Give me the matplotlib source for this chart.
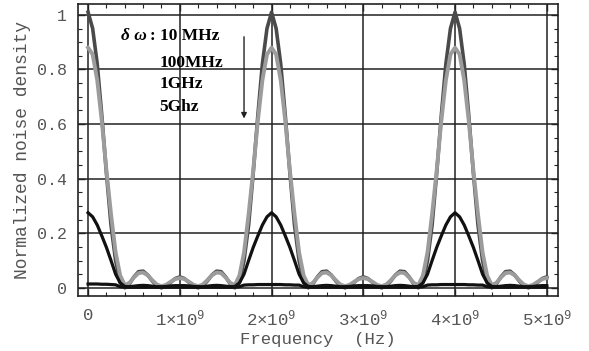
import numpy as np
import matplotlib
matplotlib.use('Agg')
import matplotlib.pyplot as plt
from matplotlib.ticker import MultipleLocator, FixedLocator

plt.rcParams['mathtext.fontset'] = 'custom'
plt.rcParams['mathtext.rm'] = 'Liberation Mono'
plt.rcParams['mathtext.default'] = 'regular'

# frequency grid (Hz), one sample every 0.05 GHz
freq = np.linspace(0, 5e9, 101)

# delta omega = 10 MHz
dens_10mhz = [
    1.01, 0.95, 0.82, 0.63, 0.42, 0.23, 0.10, 0.02, 0.00, 0.014, 0.04, 0.059, 0.061, 0.047, 0.025, 0.007, 0.00, 0.006, 0.02, 0.034, 0.04,
    0.034, 0.02, 0.006, 0.00, 0.007, 0.025, 0.047, 0.061, 0.059, 0.04, 0.014, 0.00, 0.02, 0.10, 0.23, 0.42, 0.63, 0.82, 0.95, 1.01,
    0.95, 0.82, 0.63, 0.42, 0.23, 0.10, 0.02, 0.00, 0.014, 0.04, 0.059, 0.061, 0.047, 0.025, 0.007, 0.00, 0.006, 0.02, 0.034, 0.04,
    0.034, 0.02, 0.006, 0.00, 0.007, 0.025, 0.047, 0.061, 0.059, 0.04, 0.014, 0.00, 0.02, 0.10, 0.23, 0.42, 0.63, 0.82, 0.95, 1.01,
    0.95, 0.82, 0.63, 0.42, 0.23, 0.10, 0.02, 0.00, 0.014, 0.04, 0.059, 0.061, 0.047, 0.025, 0.007, 0.00, 0.006, 0.02, 0.034, 0.04,
]

# delta omega = 100 MHz
dens_100mhz = [
    0.88, 0.855, 0.76, 0.61, 0.43, 0.27, 0.13, 0.045, 0.01, 0.018, 0.038, 0.054, 0.056, 0.046, 0.028, 0.012, 0.006, 0.011, 0.022, 0.032, 0.036,
    0.032, 0.022, 0.011, 0.006, 0.012, 0.028, 0.046, 0.056, 0.054, 0.038, 0.018, 0.01, 0.045, 0.13, 0.27, 0.43, 0.61, 0.76, 0.855, 0.88,
    0.855, 0.76, 0.61, 0.43, 0.27, 0.13, 0.045, 0.01, 0.018, 0.038, 0.054, 0.056, 0.046, 0.028, 0.012, 0.006, 0.011, 0.022, 0.032, 0.036,
    0.032, 0.022, 0.011, 0.006, 0.012, 0.028, 0.046, 0.056, 0.054, 0.038, 0.018, 0.01, 0.045, 0.13, 0.27, 0.43, 0.61, 0.76, 0.855, 0.88,
    0.855, 0.76, 0.61, 0.43, 0.27, 0.13, 0.045, 0.01, 0.018, 0.038, 0.054, 0.056, 0.046, 0.028, 0.012, 0.006, 0.011, 0.022, 0.032, 0.036,
]

# delta omega = 1 GHz
dens_1ghz = [
    0.275, 0.26, 0.23, 0.19, 0.148, 0.10, 0.05, 0.018, 0.005, 0.004, 0.006, 0.008, 0.009, 0.008, 0.006, 0.004, 0.004, 0.005, 0.007, 0.008, 0.008,
    0.008, 0.007, 0.005, 0.004, 0.004, 0.006, 0.008, 0.009, 0.008, 0.006, 0.004, 0.005, 0.018, 0.05, 0.10, 0.148, 0.19, 0.23, 0.26, 0.275,
    0.26, 0.23, 0.19, 0.148, 0.10, 0.05, 0.018, 0.005, 0.004, 0.006, 0.008, 0.009, 0.008, 0.006, 0.004, 0.004, 0.005, 0.007, 0.008, 0.008,
    0.008, 0.007, 0.005, 0.004, 0.004, 0.006, 0.008, 0.009, 0.008, 0.006, 0.004, 0.005, 0.018, 0.05, 0.10, 0.148, 0.19, 0.23, 0.26, 0.275,
    0.26, 0.23, 0.19, 0.148, 0.10, 0.05, 0.018, 0.005, 0.004, 0.006, 0.008, 0.009, 0.008, 0.006, 0.004, 0.004, 0.005, 0.007, 0.008, 0.008,
]

# delta omega = 5 GHz
dens_5ghz = [
    0.014, 0.014, 0.014, 0.013, 0.013, 0.012, 0.011, 0.004, 0.002, 0.002, 0.002, 0.002, 0.002, 0.002, 0.002, 0.002, 0.002, 0.002, 0.002, 0.002, 0.002,
    0.002, 0.002, 0.002, 0.002, 0.002, 0.002, 0.002, 0.002, 0.002, 0.002, 0.002, 0.002, 0.004, 0.010, 0.011, 0.011, 0.012, 0.012, 0.012, 0.012,
    0.012, 0.012, 0.011, 0.011, 0.010, 0.010, 0.004, 0.002, 0.002, 0.002, 0.002, 0.002, 0.002, 0.002, 0.002, 0.002, 0.002, 0.002, 0.002, 0.002,
    0.002, 0.002, 0.002, 0.002, 0.002, 0.002, 0.002, 0.002, 0.002, 0.002, 0.002, 0.002, 0.004, 0.010, 0.011, 0.011, 0.012, 0.012, 0.012, 0.012,
    0.012, 0.012, 0.011, 0.011, 0.010, 0.010, 0.004, 0.002, 0.002, 0.002, 0.002, 0.002, 0.002, 0.002, 0.002, 0.002, 0.002, 0.002, 0.002, 0.002,
]

x_ticks = [0, 1e9, 2e9, 3e9, 4e9, 5e9]
x_tick_labels = ['0', '1×10$^{9}$', '2×10$^{9}$', '3×10$^{9}$', '4×10$^{9}$', '5×10$^{9}$']
y_ticks = [0, 0.2, 0.4, 0.6, 0.8, 1.0]
y_tick_labels = ['0', '0.2', '0.4', '0.6', '0.8', '1']

fig = plt.figure(figsize=(5.89, 3.51), dpi=100)
ax = fig.add_axes([0.1324, 0.1567, 0.8146, 0.832])

ax.plot(freq, dens_10mhz, color='#4a4a4a', lw=2.6, solid_joinstyle='round', zorder=3)
ax.plot(freq, dens_100mhz, color='#9c9c9c', lw=2.8, solid_joinstyle='round', zorder=4)
ax.plot(freq, dens_1ghz, color='#111111', lw=2.3, solid_joinstyle='round', zorder=5)
ax.plot(freq, dens_5ghz, color='#111111', lw=2.3, solid_joinstyle='round', zorder=5)

ax.set_xlim(-0.11e9, 5.12e9)
ax.set_ylim(-0.03, 1.04)

ax.xaxis.set_major_locator(FixedLocator(x_ticks))
ax.set_xticklabels(x_tick_labels)
ax.xaxis.set_minor_locator(MultipleLocator(0.2e9))
ax.yaxis.set_major_locator(FixedLocator(y_ticks))
ax.set_yticklabels(y_tick_labels)
ax.yaxis.set_minor_locator(MultipleLocator(0.05))

ax.grid(True, which='major', color='#222222', lw=1.1, zorder=1)
ax.set_axisbelow(True)

ax.tick_params(which='both', direction='in', top=True, right=True, color='#222222')
ax.tick_params(which='major', length=5, width=1)
ax.tick_params(which='minor', length=3, width=0.8)
ax.tick_params(axis='x', which='major', pad=9, labelsize=12.5, labelcolor='#555555')
ax.tick_params(axis='y', which='major', pad=8, labelsize=12, labelcolor='#555555')
for lab in ax.get_xticklabels() + ax.get_yticklabels():
    lab.set_fontfamily('Liberation Mono')

for s in ax.spines.values():
    s.set_color('#222222')
    s.set_linewidth(1.2)

ax.set_xlabel('Frequency  (Hz)', fontfamily='Liberation Mono', fontsize=12.5, color='#555555', labelpad=2)
ax.set_ylabel('Normalized noise density', fontfamily='Liberation Mono', fontsize=13, color='#555555', labelpad=4)

# legend-like annotation
ax.text(0.36e9, 0.922, 'δ ω', fontfamily='Liberation Serif', fontweight='bold', fontstyle='italic',
        fontsize=12.5, va='center', ha='left', zorder=6)
ax.text(0.67e9, 0.922, ': 10 MHz', fontfamily='Liberation Serif', fontweight='bold',
        fontsize=12.5, va='center', ha='left', zorder=6)
for lbl, yy in [('100MHz', 0.823), ('1GHz', 0.745), ('5Ghz', 0.664)]:
    ax.text(0.78e9, yy, lbl, fontfamily='Liberation Serif', fontweight='bold',
            fontsize=12.5, va='center', ha='left', zorder=6)
ax.annotate('', xy=(1.70e9, 0.61), xytext=(1.70e9, 0.93),
            arrowprops=dict(arrowstyle='-|>', color='#222222', lw=1.0, mutation_scale=8), zorder=6)

fig.savefig('out.png', dpi=100, facecolor='white')
